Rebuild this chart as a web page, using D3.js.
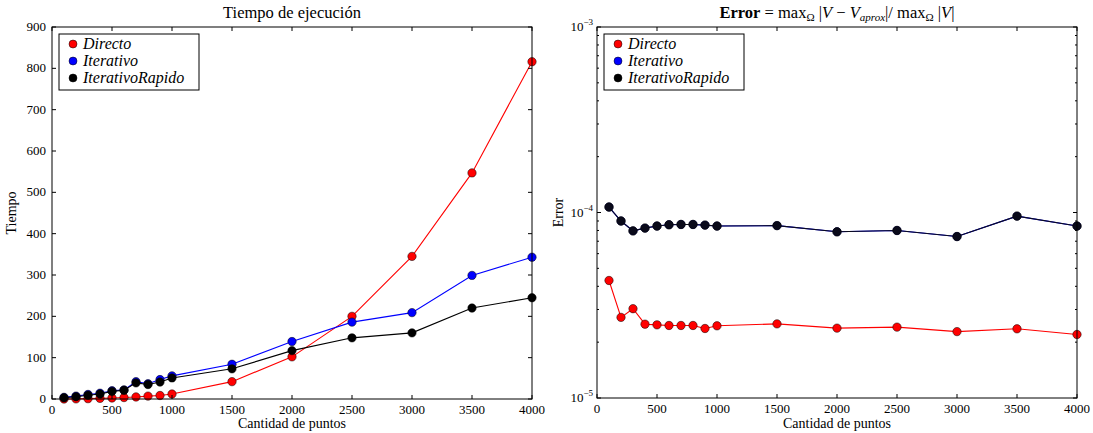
<!DOCTYPE html>
<html>
<head>
<meta charset="utf-8">
<script src="https://cdn.jsdelivr.net/npm/d3@7"></script>
<style>
  body { margin: 0; background: #fff; }
  text { font-family: "Liberation Serif", "DejaVu Serif", serif; fill: #000; }
</style>
</head>
<body>
<svg id="chart" width="1093" height="433"></svg>
<script>
/************************************ Data *******************************/
var puntos = [100,200,300,400,500,600,700,800,900,1000,1500,2000,2500,3000,3500,4000];

var tiempoDirecto   = [0.1,0.3,0.8,1.5,2.5,3.5,5,7,8.5,12,42,102,200,345,547,816];
var tiempoIterativo = [4,7,11,14,20,22,42,37,47,56,84,139,186,209,299,343];
var tiempoRapido    = [3,5.6,9,12,18.5,21,39,35,41,51,73,117,148,160,220,245];

var errorDirecto   = [4.3e-5,2.72e-5,3.03e-5,2.5e-5,2.48e-5,2.46e-5,2.46e-5,2.46e-5,2.37e-5,2.45e-5,2.51e-5,2.38e-5,2.41e-5,2.28e-5,2.36e-5,2.2e-5];
var errorIterativo = [1.07e-4,0.90e-4,0.796e-4,0.824e-4,0.845e-4,0.859e-4,0.862e-4,0.862e-4,0.855e-4,0.845e-4,0.85e-4,0.787e-4,0.80e-4,0.742e-4,0.956e-4,0.845e-4];
var errorRapido    = errorIterativo.slice();

var xTicks = [0,500,1000,1500,2000,2500,3000,3500,4000];
var yTicksTiempo = [0,100,200,300,400,500,600,700,800,900];
var yTicksError = [-5,-4,-3];

var nombres = ["Directo","Iterativo","IterativoRapido"];
var colores = ["#ff0000","#0000ff","#000000"];

/************************************ Helpers *******************************/
var svg = d3.select("#chart");

function frame(g, w, h) {
  g.append("rect").attr("width", w).attr("height", h)
    .attr("fill", "none").attr("stroke", "#000").attr("stroke-width", 1);
}

function tickMarks(g, scale, vals, len, orient, w, h) {
  vals.forEach(function(v) {
    if (orient === "x") {
      var x = scale(v);
      g.append("line").attr("x1", x).attr("x2", x).attr("y1", h).attr("y2", h - len).attr("stroke", "#000");
      g.append("line").attr("x1", x).attr("x2", x).attr("y1", 0).attr("y2", len).attr("stroke", "#000");
    } else {
      var y = scale(v);
      g.append("line").attr("x1", 0).attr("x2", len).attr("y1", y).attr("y2", y).attr("stroke", "#000");
      g.append("line").attr("x1", w).attr("x2", w - len).attr("y1", y).attr("y2", y).attr("stroke", "#000");
    }
  });
}

function series(g, x, y, ys, color) {
  var line = d3.line().x(function(d, i) { return x(puntos[i]); }).y(function(d) { return y(d); });
  g.append("path").datum(ys).attr("d", line)
    .attr("fill", "none").attr("stroke", color).attr("stroke-width", 1.1);
  g.selectAll(null).data(ys).enter().append("circle")
    .attr("cx", function(d, i) { return x(puntos[i]); })
    .attr("cy", function(d) { return y(d); })
    .attr("r", 4.2)
    .attr("fill", color).attr("stroke", "#000").attr("stroke-width", 0.5);
}

function legend(g, lx, ly) {
  g.append("rect").attr("x", lx).attr("y", ly).attr("width", 140).attr("height", 56)
    .attr("fill", "#fff").attr("stroke", "#000").attr("stroke-width", 1);
  nombres.forEach(function(n, i) {
    var yy = ly + 10 + i * 17;
    g.append("circle").attr("cx", lx + 14).attr("cy", yy).attr("r", 4)
      .attr("fill", colores[i]).attr("stroke", "#000").attr("stroke-width", 0.5);
    g.append("text").attr("x", lx + 24).attr("y", yy + 5)
      .attr("font-size", 16).attr("font-style", "italic").text(n);
  });
}

/************************************ Chart 1: Tiempo *******************************/
var m1 = {left: 52, top: 27, w: 480, h: 372};
var g1 = svg.append("g").attr("transform", "translate(" + m1.left + "," + m1.top + ")");
var x1 = d3.scaleLinear().domain([0, 4000]).range([0, m1.w]);
var y1 = d3.scaleLinear().domain([0, 900]).range([m1.h, 0]);

series(g1, x1, y1, tiempoDirecto, colores[0]);
series(g1, x1, y1, tiempoIterativo, colores[1]);
series(g1, x1, y1, tiempoRapido, colores[2]);
frame(g1, m1.w, m1.h);
tickMarks(g1, x1, xTicks, 4, "x", m1.w, m1.h);
tickMarks(g1, y1, yTicksTiempo, 4, "y", m1.w, m1.h);

g1.selectAll(null).data(xTicks).enter().append("text")
  .attr("x", function(d) { return x1(d); }).attr("y", m1.h + 15)
  .attr("text-anchor", "middle").attr("font-size", 13).text(function(d) { return d; });
g1.selectAll(null).data(yTicksTiempo).enter().append("text")
  .attr("x", -6).attr("y", function(d) { return y1(d) + 4; })
  .attr("text-anchor", "end").attr("font-size", 13).text(function(d) { return d; });

g1.append("text").attr("x", m1.w / 2).attr("y", -9).attr("text-anchor", "middle")
  .attr("font-size", 16.5).text("Tiempo de ejecución");
g1.append("text").attr("x", m1.w / 2).attr("y", m1.h + 29).attr("text-anchor", "middle")
  .attr("font-size", 14).text("Cantidad de puntos");
g1.append("text").attr("transform", "translate(-36," + (m1.h / 2) + ") rotate(-90)")
  .attr("text-anchor", "middle").attr("font-size", 14).text("Tiempo");
legend(g1, 7, 7);

/************************************ Chart 2: Error *******************************/
var m2 = {left: 597, top: 27, w: 480, h: 371};
var g2 = svg.append("g").attr("transform", "translate(" + m2.left + "," + m2.top + ")");
var x2 = d3.scaleLinear().domain([0, 4000]).range([0, m2.w]);
var y2 = d3.scaleLog().domain([1e-5, 1e-3]).range([m2.h, 0]);

series(g2, x2, y2, errorDirecto, colores[0]);
series(g2, x2, y2, errorIterativo, colores[1]);
series(g2, x2, y2, errorRapido, "#0a0a1a");
frame(g2, m2.w, m2.h);
tickMarks(g2, x2, xTicks, 4, "x", m2.w, m2.h);
tickMarks(g2, y2, yTicksError.map(function(e) { return Math.pow(10, e); }), 4, "y", m2.w, m2.h);
var minors = [];
[-5, -4].forEach(function(e) { for (var k = 2; k < 10; k++) minors.push(k * Math.pow(10, e)); });
tickMarks(g2, y2, minors, 2, "y", m2.w, m2.h);

g2.selectAll(null).data(xTicks).enter().append("text")
  .attr("x", function(d) { return x2(d); }).attr("y", m2.h + 15)
  .attr("text-anchor", "middle").attr("font-size", 13).text(function(d) { return d; });
var yl = g2.selectAll(null).data(yTicksError).enter().append("text")
  .attr("x", -4).attr("y", function(d) { return y2(Math.pow(10, d)) + 4; })
  .attr("text-anchor", "end").attr("font-size", 13);
yl.append("tspan").text("10");
yl.append("tspan").attr("dy", -6).attr("font-size", 9).text(function(d) { return "−" + (-d); });

var t2 = g2.append("text").attr("x", m2.w / 2).attr("y", -9).attr("text-anchor", "middle").attr("font-size", 16.5);
t2.append("tspan").attr("font-weight", "bold").text("Error");
t2.append("tspan").text(" = max");
t2.append("tspan").attr("dy", 3).attr("font-size", 11).text("Ω");
t2.append("tspan").attr("dy", -3).text(" |");
t2.append("tspan").attr("font-style", "italic").text("V");
t2.append("tspan").text("  −  ");
t2.append("tspan").attr("font-style", "italic").text("V");
t2.append("tspan").attr("dy", 3).attr("font-size", 11).attr("font-style", "italic").text("aprox");
t2.append("tspan").attr("dy", -3).text("|/ max");
t2.append("tspan").attr("dy", 3).attr("font-size", 11).text("Ω");
t2.append("tspan").attr("dy", -3).text(" |");
t2.append("tspan").attr("font-style", "italic").text("V");
t2.append("tspan").text("|");

g2.append("text").attr("x", m2.w / 2).attr("y", m2.h + 30).attr("text-anchor", "middle")
  .attr("font-size", 14).text("Cantidad de puntos");
g2.append("text").attr("transform", "translate(-34," + (m2.h / 2) + ") rotate(-90)")
  .attr("text-anchor", "middle").attr("font-size", 14).text("Error");
legend(g2, 7, 7);
</script>
</body>
</html>
